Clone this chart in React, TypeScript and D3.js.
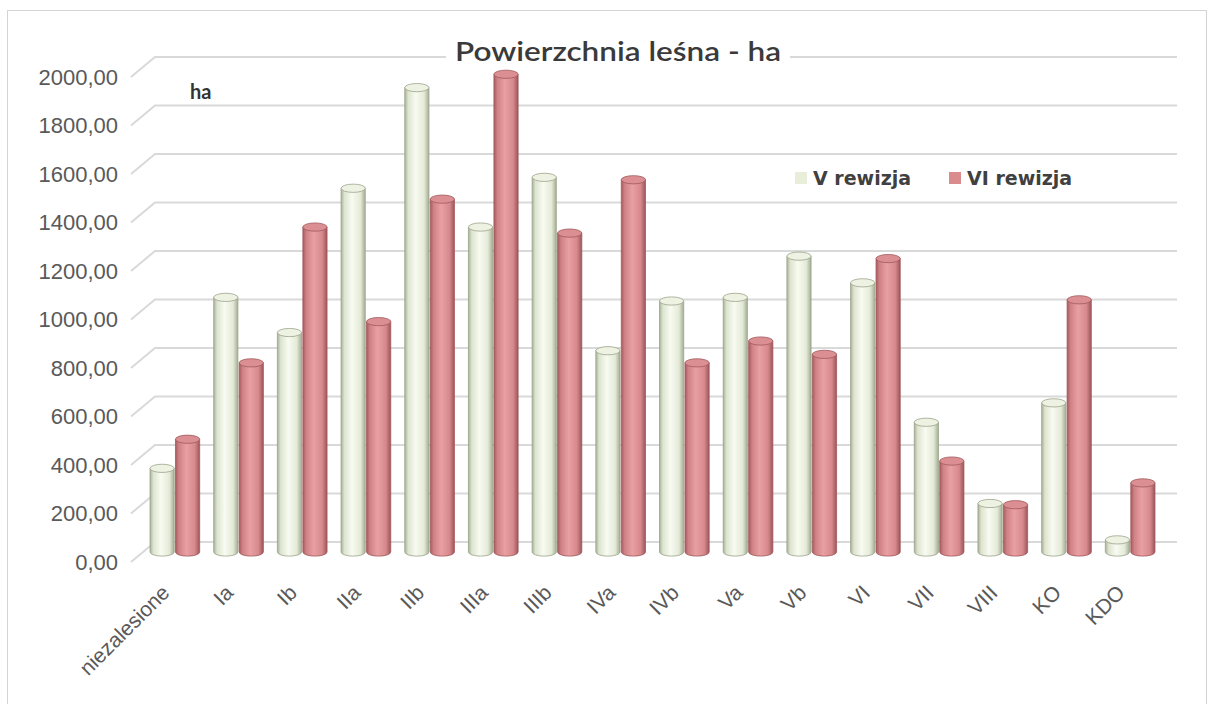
import * as d3 from "d3";

const categories = ["niezalesione", "Ia", "Ib", "IIa", "IIb", "IIIa", "IIIb", "IVa", "IVb", "Va", "Vb", "VI", "VII", "VIII", "KO", "KDO"];
const seriesNames = ["V rewizja", "VI rewizja"];
const valuesV = [345, 1050, 905, 1500, 1915, 1340, 1545, 830, 1035, 1050, 1220, 1110, 535, 200, 615, 50];
const valuesVI = [465, 780, 1340, 950, 1455, 1970, 1315, 1535, 780, 870, 815, 1210, 375, 195, 1040, 285];
const yTicks = [0, 200, 400, 600, 800, 1000, 1200, 1400, 1600, 1800, 2000];

const W = 1215;
const H = 704;
// 3D depth offset of the back wall, bars sit half way
const DX = 24;
const DY = -20;

const fmt = (v: number) => d3.format(".2f")(v).replace(".", ",");

const App = () => {
  const yFront = d3.scaleLinear().domain([0, 2000]).range([562, 77]);
  const x = d3.scaleBand().domain(categories).range([131, 1150]).paddingInner(0.22).paddingOuter(0.11);
  const xs = d3.scaleBand().domain(seriesNames).range([0, x.bandwidth()]).paddingInner(0.05);
  const color = d3.scaleOrdinal<string, string>().domain(seriesNames).range(["#e9eedb", "#d98b8e"]);

  const rows = categories.map((c, i) => ({ cat: c, vals: [valuesV[i], valuesVI[i]] }));

  const cyl = (x0: number, w: number, yt: number, yb: number, ry: number) =>
    `M${x0},${yt}L${x0},${yb}A${w / 2},${ry} 0 0 0 ${x0 + w},${yb}L${x0 + w},${yt}Z`;

  return (
    <svg width={W} height={H} style={{ position: "absolute", left: 0, top: 0, background: "#fff" }}>
      <defs>
        <linearGradient id="gV" x1="0" x2="1" y1="0" y2="0">
          <stop offset="0%" stopColor="#a9b29a" />
          <stop offset="14%" stopColor="#dde4cf" />
          <stop offset="45%" stopColor="#f8fbf1" />
          <stop offset="80%" stopColor="#e4ead7" />
          <stop offset="100%" stopColor="#a4ad94" />
        </linearGradient>
        <linearGradient id="gVI" x1="0" x2="1" y1="0" y2="0">
          <stop offset="0%" stopColor="#a55b5f" />
          <stop offset="14%" stopColor="#cf8184" />
          <stop offset="45%" stopColor="#e9a0a2" />
          <stop offset="80%" stopColor="#d6898c" />
          <stop offset="100%" stopColor="#9c5559" />
        </linearGradient>
      </defs>

      <rect x={7.5} y={10.5} width={1199} height={700} fill="#fff" stroke="#d4d4d4" />

      {/* gridlines: side wall diagonal + back wall */}
      <g stroke="#d9d9d9" strokeWidth={2} fill="none">
        {yTicks.map((t) => (
          <path key={t} d={`M${131},${yFront(t)}L${131 + DX},${yFront(t) + DY}L${1153 + DX},${yFront(t) + DY}`} />
        ))}
      </g>

      {/* y labels */}
      <g fontFamily="'Liberation Sans', Arial, sans-serif" fontSize={22} fill="#595959" textAnchor="end">
        {yTicks.map((t) => (
          <text key={t} x={118} y={yFront(t)} dominantBaseline="central">
            {fmt(t)}
          </text>
        ))}
      </g>

      {/* bars */}
      <g>
        {rows.map((r) =>
          r.vals.map((v, j) => {
            const s = seriesNames[j];
            const w = xs.bandwidth();
            const x0 = (x(r.cat) as number) + (xs(s) as number) + DX / 2;
            const yt = yFront(v) + DY / 2;
            const yb = yFront(0) + DY / 2;
            const ry = w * 0.17;
            const edge = j === 0 ? "#9aa38a" : "#a0595d";
            return (
              <g key={r.cat + s}>
                <path d={cyl(x0, w, yt, yb, ry)} fill={j === 0 ? "url(#gV)" : "url(#gVI)"} stroke={edge} strokeWidth={0.8} />
                <ellipse cx={x0 + w / 2} cy={yt} rx={w / 2} ry={ry} fill={j === 0 ? "#eef2e2" : "#dc8f92"} stroke={edge} strokeWidth={0.8} />
              </g>
            );
          })
        )}
      </g>

      {/* x labels */}
      <g fontFamily="'Liberation Sans', Arial, sans-serif" fontSize={21} fill="#595959" textAnchor="end">
        {categories.map((c) => {
          const cx = (x(c) as number) + x.bandwidth() / 2 + 8;
          return (
            <text key={c} transform={`translate(${cx},594) rotate(-45)`}>
              {c}
            </text>
          );
        })}
      </g>

      {/* title */}
      <rect x={446} y={34} width={344} height={34} fill="#fff" />
      <text
        x={455}
        y={61}
        textLength={326}
        lengthAdjust="spacingAndGlyphs"
        fontFamily="Lato, 'Open Sans', sans-serif"
        fontWeight={600}
        fontSize={26}
        fill="#3a3a3a"
      >
        Powierzchnia leśna - ha
      </text>

      <text x={190} y={99} fontFamily="Lato, sans-serif" fontWeight={700} fontSize={20} fill="#333">
        ha
      </text>

      {/* legend */}
      <g fontFamily="'DejaVu Sans', Verdana, sans-serif" fontWeight="bold" fontSize={19} fill="#404040">
        {seriesNames.map((s, i) => {
          const lx = i === 0 ? 795 : 949;
          return (
            <g key={s}>
              <rect x={lx} y={172} width={12} height={12} fill={color(s)} />
              <text x={lx + 18} y={178} dominantBaseline="central">
                {s}
              </text>
            </g>
          );
        })}
      </g>
    </svg>
  );
};

export default App;
